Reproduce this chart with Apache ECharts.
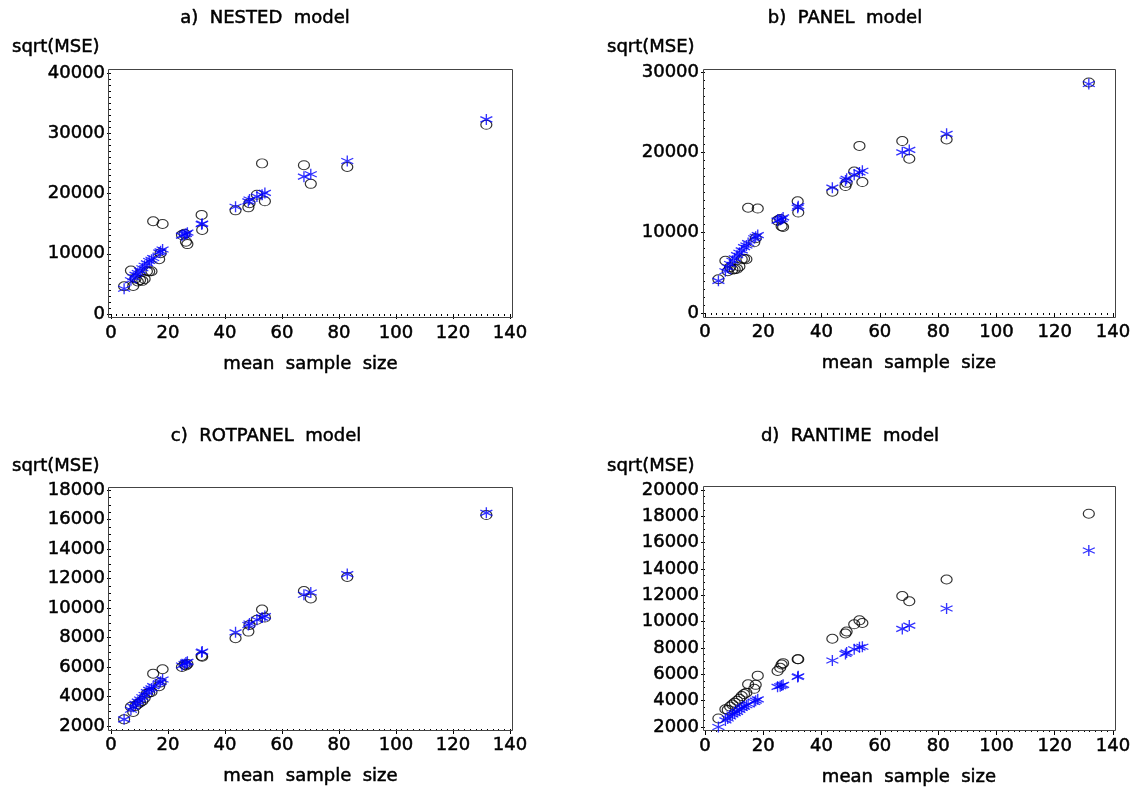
<!DOCTYPE html>
<html>
<head>
<meta charset="utf-8">
<script src="https://cdn.jsdelivr.net/npm/echarts@6/dist/echarts.min.js"></script>
<style>
html, body { margin: 0; padding: 0; background: #ffffff; }
#chart { width: 1139px; height: 790px; }
</style>
</head>
<body>
<div id="chart"></div>
<script>
// Mean sample size of each small area (shared by all four models)
const meanSampleSize = [4.6, 7.0, 7.8, 8.6, 9.4, 10.2, 11.0, 11.8, 12.6, 13.4, 14.2, 14.8, 16.9, 17.4, 18.1,
  24.9, 25.8, 26.3, 26.8, 31.8, 32.0, 43.7, 48.2, 48.6, 51.2, 53.0, 54.0, 67.7, 70.1, 82.9, 131.7];

// sqrt(MSE): empirical (circles) and model-based (stars)
const nestedEmpirical = [4600, 7200, 4650, 5900, 5400, 5650, 5500, 5800, 7100, 7050, 7100, 15400, 9100, 10100, 14950,
  13100, 13300, 12000, 11600, 16450, 13950, 17200, 17700, 18400, 19800, 25000, 18700, 24700, 21600, 24400, 31400];
const nestedModel = [4200, 5600, 6100, 6500, 6800, 7200, 7600, 8000, 8400, 8800, 9000, 9300, 10200, 10400, 10700,
  13000, 13200, 13300, 13500, 14900, 15000, 17800, 18700, 19000, 19500, 19800, 20100, 22800, 23200, 25400, 32300];

const panelEmpirical = [4200, 6500, 5200, 5700, 5400, 5450, 5500, 5800, 6700, 6750, 6700, 13100, 8800, 9300, 13000,
  11500, 11700, 10800, 10700, 13900, 12500, 15100, 15800, 16200, 17600, 20800, 16300, 21400, 19200, 21600, 28700];
const panelModel = [4000, 5200, 5700, 6100, 6500, 6800, 7200, 7500, 7800, 8200, 8400, 8700, 9300, 9500, 9700,
  11500, 11600, 11700, 11900, 13100, 13300, 15600, 16500, 16700, 17200, 17500, 17700, 20000, 20300, 22300, 28500];

const rotpanelEmpirical = [2450, 3300, 2950, 3350, 3500, 3600, 3700, 3900, 4200, 4250, 4300, 5550, 4700, 4950, 5850,
  6000, 6150, 6100, 6200, 6750, 6700, 7950, 8400, 8850, 9200, 9900, 9350, 11150, 10650, 12100, 16300];
const rotpanelModel = [2450, 3100, 3300, 3500, 3650, 3800, 3950, 4100, 4300, 4450, 4550, 4700, 4900, 5000, 5150,
  6100, 6200, 6300, 6350, 7000, 7050, 8350, 8850, 8950, 9200, 9350, 9450, 10900, 11050, 12300, 16450];

const rantimeEmpirical = [2650, 3350, 3300, 3550, 3700, 3850, 4000, 4150, 4350, 4500, 4600, 5250, 4900, 5200, 5900,
  6250, 6500, 6750, 6850, 7150, 7150, 8700, 9100, 9250, 9800, 10100, 9900, 11950, 11550, 13200, 18200];
const rantimeModel = [2000, 2500, 2650, 2800, 2950, 3050, 3150, 3300, 3450, 3550, 3650, 3750, 3900, 4000, 4100,
  5050, 5100, 5150, 5200, 5800, 5850, 7050, 7550, 7650, 7900, 8050, 8100, 9450, 9700, 11000, 15400];

const panelTitles = ['a)  NESTED  model', 'b)  PANEL  model', 'c)  ROTPANEL  model', 'd)  RANTIME  model'];
const yLabel = 'sqrt(MSE)';
const xLabel = 'mean  sample  size';

// Axis ranges per panel: [min, max, step, minor divisions]
const yRanges = [[0, 40000, 10000, 10], [0, 30000, 10000, 10], [2000, 18000, 2000, 4], [2000, 20000, 2000, 4]];
const xRange = [0, 140, 20, 10];

// Layout of each panel (pixels)
const layout = [
  { grid: { left: 111, top: 73, width: 399, height: 241 }, frame: [108, 69, 512, 317], title: [265, 18], ylab: [12, 47] },
  { grid: { left: 705, top: 72, width: 408, height: 241 }, frame: [703, 69, 1115, 317], title: [845, 18], ylab: [607, 47] },
  { grid: { left: 111, top: 490, width: 399, height: 236 }, frame: [108, 487, 512, 730], title: [266, 436], ylab: [12, 466] },
  { grid: { left: 705, top: 490, width: 408, height: 237 }, frame: [703, 486, 1115, 730], title: [850, 436], ylab: [607, 466] }
];

const empiricalSets = [nestedEmpirical, panelEmpirical, rotpanelEmpirical, rantimeEmpirical];
const modelSets = [nestedModel, panelModel, rotpanelModel, rantimeModel];

const FONT = '"DejaVu Sans", sans-serif';
const FS = 18;
// thin outline in the text colour gives the slightly heavier lettering
const TXT = { color: '#000', fontFamily: FONT, fontSize: FS, textBorderColor: '#000', textBorderWidth: 0.5 };
const STAR = 'path://M5 0 L5 10 M0.67 2.5 L9.33 7.5 M0.67 7.5 L9.33 2.5';

const grids = [], xAxes = [], yAxes = [], series = [], graphics = [];

layout.forEach((p, i) => {
  grids.push(Object.assign({}, p.grid));
  xAxes.push({
    gridIndex: i, type: 'value', min: xRange[0], max: xRange[1], interval: xRange[2],
    position: 'bottom', offset: 3,
    axisLine: { show: false },
    axisTick: { show: true, inside: false, length: 5, lineStyle: { color: '#000', width: 1 } },
    minorTick: { show: true, splitNumber: xRange[3], length: 2, lineStyle: { color: '#000', width: 1 } },
    splitLine: { show: false },
    axisLabel: Object.assign({ margin: 7, formatter: v => String(v) }, TXT),
    name: xLabel, nameLocation: 'middle', nameGap: 38,
    nameTextStyle: Object.assign({}, TXT)
  });
  const yr = yRanges[i];
  yAxes.push({
    gridIndex: i, type: 'value', min: yr[0], max: yr[1], interval: yr[2],
    position: 'left', offset: 3,
    axisLine: { show: false },
    axisTick: { show: true, inside: false, length: 4, lineStyle: { color: '#000', width: 1 } },
    minorTick: { show: true, splitNumber: yr[3], length: 2, lineStyle: { color: '#000', width: 1 } },
    splitLine: { show: false },
    axisLabel: Object.assign({ margin: 3, formatter: v => String(v) }, TXT)
  });
  series.push({
    type: 'scatter', xAxisIndex: i, yAxisIndex: i,
    symbol: 'circle', symbolSize: [11, 9],
    itemStyle: { color: 'rgba(0,0,0,0)', borderColor: '#000', borderWidth: 1.1 },
    data: meanSampleSize.map((x, k) => [x, empiricalSets[i][k]]),
    z: 2
  });
  series.push({
    type: 'scatter', xAxisIndex: i, yAxisIndex: i,
    symbol: STAR, symbolSize: [12, 11],
    itemStyle: { color: 'rgba(0,0,0,0)', borderColor: '#0000ff', borderWidth: 1.3 },
    data: meanSampleSize.map((x, k) => [x, modelSets[i][k]]),
    z: 3
  });
  const f = p.frame;
  graphics.push({
    type: 'rect', silent: true, z: 1,
    shape: { x: f[0] + 0.5, y: f[1] + 0.5, width: f[2] - f[0], height: f[3] - f[1] },
    style: { fill: 'none', stroke: '#444', lineWidth: 1 }
  });
  graphics.push({
    type: 'text', silent: true, x: p.title[0], y: p.title[1],
    style: { text: panelTitles[i], fill: '#000', stroke: '#000', lineWidth: 0.5, font: FS + 'px ' + FONT, textAlign: 'center', textVerticalAlign: 'middle' }
  });
  graphics.push({
    type: 'text', silent: true, x: p.ylab[0], y: p.ylab[1],
    style: { text: yLabel, fill: '#000', stroke: '#000', lineWidth: 0.5, font: FS + 'px ' + FONT, textAlign: 'left', textVerticalAlign: 'middle' }
  });
});

const chart = echarts.init(document.getElementById('chart'), null, { renderer: 'canvas' });
chart.setOption({
  backgroundColor: '#ffffff',
  animation: false,
  grid: grids,
  xAxis: xAxes,
  yAxis: yAxes,
  series: series,
  graphic: graphics
});
</script>
</body>
</html>
